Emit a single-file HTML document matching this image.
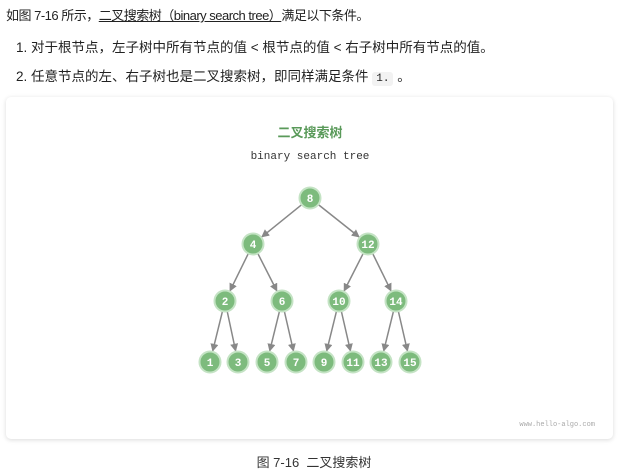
<!DOCTYPE html>
<html><head><meta charset="utf-8"><style>
body{margin:0;width:628px;height:473px;background:#fff;font-family:"Liberation Sans","Noto Sans CJK SC",sans-serif;color:#222;position:relative;overflow:hidden}
.t{position:absolute;font-size:13.5px;white-space:nowrap;line-height:20px}
code{font-family:"Liberation Mono",monospace;font-size:11px;background:#f2f2f2;padding:1px 4px;border-radius:3px}
.card{position:absolute;left:6px;top:97px;width:607px;height:342px;background:#fff;border-radius:5px;box-shadow:0 1px 5px rgba(0,0,0,.15)}
</style></head><body>
<div class="t" style="left:6px;top:6px;font-size:13px;letter-spacing:-0.5px">如图 7-16 所示，<span style="text-decoration:underline">二叉搜索树（binary search tree）</span>满足以下条件。</div>
<div class="t" style="left:16px;top:38px">1. 对于根节点，左子树中所有节点的值 &lt; 根节点的值 &lt; 右子树中所有节点的值。</div>
<div class="t" style="left:16px;top:67px">2. 任意节点的左、右子树也是二叉搜索树，即同样满足条件 <code>1.</code> 。</div>
<div class="card"></div>
<svg style="position:absolute;left:0;top:0" width="628" height="473">
<defs><marker id="a" markerWidth="8" markerHeight="8" refX="7" refY="4" orient="auto" markerUnits="userSpaceOnUse"><path d="M0,0L8,4L0,8z" fill="#888"/></marker></defs>
<text x="310" y="137" text-anchor="middle" font-size="13" font-weight="bold" fill="#5a9a5a" font-family="Liberation Sans,Noto Sans CJK SC,sans-serif">二叉搜索树</text>
<text x="310" y="159" text-anchor="middle" font-size="11" fill="#333" font-family="Liberation Mono,monospace">binary search tree</text>
<text x="595" y="426" text-anchor="end" font-size="7" fill="#aaa" font-family="Liberation Mono,monospace">www.hello-algo.com</text>
<g stroke="#888" stroke-width="1.5" marker-end="url(#a)" id="e"></g>
<g id="n"></g>
</svg>
<div class="t" style="left:0;width:628px;text-align:center;top:453px;font-size:13px;color:#333">图 7-16 &nbsp;二叉搜索树</div>
<script>
var N={8:[310,198],4:[253,244],12:[368,244],2:[225,301],6:[282,301],10:[339,301],14:[396,301],1:[210,362],3:[238,362],5:[267,362],7:[296,362],9:[324,362],11:[353,362],13:[381,362],15:[410,362]};
var E=[[8,4],[8,12],[4,2],[4,6],[12,10],[12,14],[2,1],[2,3],[6,5],[6,7],[10,9],[10,11],[14,13],[14,15]];
var ns="http://www.w3.org/2000/svg",e=document.getElementById('e'),g=document.getElementById('n'),r=10.5;
E.forEach(function(p){var a=N[p[0]],b=N[p[1]],dx=b[0]-a[0],dy=b[1]-a[1],l=Math.hypot(dx,dy);
var L=document.createElementNS(ns,'line');L.setAttribute('x1',a[0]+dx/l*r);L.setAttribute('y1',a[1]+dy/l*r);L.setAttribute('x2',b[0]-dx/l*(r+1));L.setAttribute('y2',b[1]-dy/l*(r+1));e.appendChild(L);});
for(var k in N){var c=document.createElementNS(ns,'circle');c.setAttribute('cx',N[k][0]);c.setAttribute('cy',N[k][1]);c.setAttribute('r',r);c.setAttribute('fill','#7dbb7d');c.setAttribute('stroke','#c4e3c4');c.setAttribute('stroke-width','2');g.appendChild(c);
var t=document.createElementNS(ns,'text');t.setAttribute('x',N[k][0]);t.setAttribute('y',N[k][1]+4);t.setAttribute('text-anchor','middle');t.setAttribute('font-size','11');t.setAttribute('font-weight','bold');t.setAttribute('fill','#fff');t.setAttribute('font-family','Liberation Mono,monospace');t.textContent=k;g.appendChild(t);}
</script>
</body></html>
